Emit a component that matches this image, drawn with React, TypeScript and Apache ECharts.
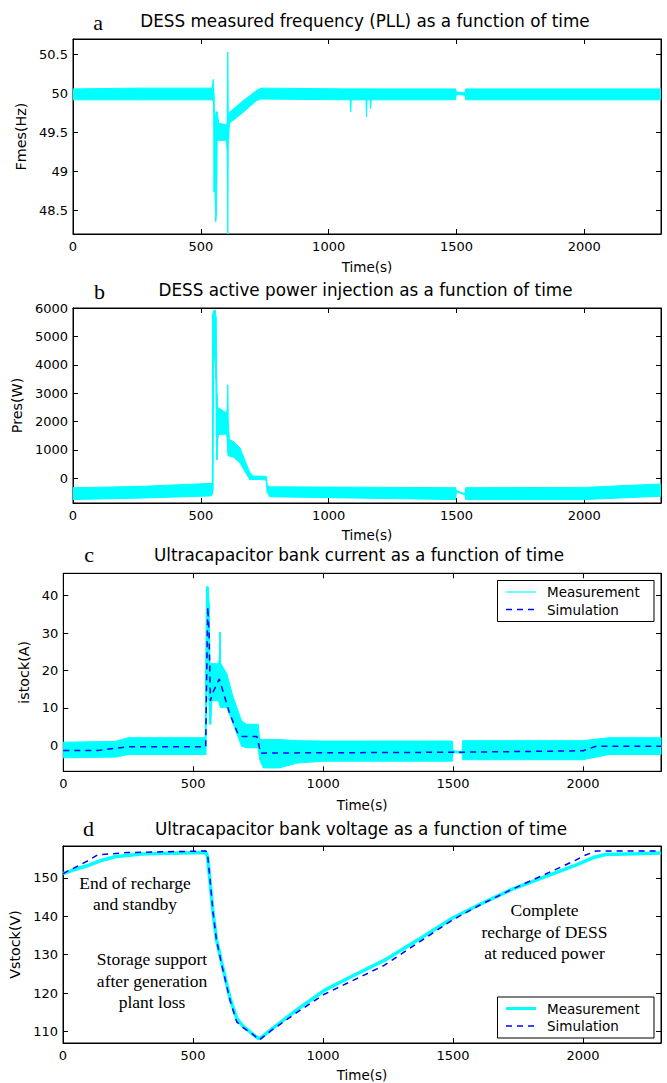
import React, { useEffect, useRef } from "react";
import * as echarts from "echarts";

// ---------- shared axis data ----------
const timeTicks = [0, 500, 1000, 1500, 2000];
const timeMax = 2300;

// ---------- (a) measured frequency: envelope of the measured band ----------
const freqTicks = [48.5, 49, 49.5, 50, 50.5];
const freqTime = [0, 250, 545, 549, 551, 552, 555, 558, 561, 564, 570, 600, 603, 605, 607, 612, 666, 718, 735, 1084, 1086, 1088, 1146, 1148, 1150, 1162, 1164, 1166, 1496, 1500, 1533, 1537, 2300];
const freqLow = [49.92, 49.92, 49.92, 49.9, 49.75, 48.74, 48.8, 48.36, 48.45, 49.4, 49.4, 49.4, 49.3, 48.2, 49.35, 49.62, 49.76, 49.91, 49.93, 49.92, 49.77, 49.92, 49.92, 49.7, 49.92, 49.92, 49.81, 49.92, 49.92, 49.99, 49.98, 49.92, 49.92];
const freqHigh = [50.06, 50.07, 50.07, 50.18, 50.0, 49.8, 49.7, 49.72, 49.77, 49.76, 49.62, 49.6, 49.62, 50.53, 49.72, 49.76, 49.91, 50.04, 50.07, 50.06, 50.06, 50.06, 50.06, 50.06, 50.06, 50.06, 50.06, 50.06, 50.06, 50.02, 50.01, 50.06, 50.06];

// ---------- (b) active power ----------
const powerTicks = [0, 1000, 2000, 3000, 4000, 5000, 6000];
const powerTime = [0, 250, 540, 545, 547, 550, 556, 559, 561, 563, 566, 570, 600, 603, 605, 607, 612, 627, 653, 692, 705, 752, 756, 760, 770, 1496, 1500, 1533, 1537, 2000, 2300];
const powerLow = [-750, -700, -620, -560, -400, 4000, 4500, 3500, 1500, 650, 1400, 1550, 1550, 1450, 1000, 800, 780, 750, 540, -50, -40, -50, -100, -500, -650, -750, -480, -580, -750, -750, -630];
const powerHigh = [-330, -290, -180, -160, 5800, 5900, 5930, 5700, 4350, 3000, 2450, 2480, 2300, 2400, 3290, 2000, 1360, 1300, 1070, 200, 80, 70, 60, -250, -300, -330, -440, -540, -330, -320, -200];

// ---------- (c) ultracapacitor current ----------
const currentTicks = [0, 10, 20, 30, 40];
const currentTime = [0, 200, 250, 546, 548, 551, 557, 561, 564, 567, 572, 598, 601, 603, 605, 629, 654, 686, 705, 749, 756, 770, 830, 900, 1000, 1496, 1500, 1535, 1538, 2000, 2100, 2300];
const currentLow = [-3.4, -3.2, -2.5, -2.5, -2.5, 10, 20, 12, 5.6, 5.6, 11.9, 11.9, 11, 10.5, 10.1, 10.1, 5.6, -0.3, -0.7, -0.7, -3.9, -6.1, -6.1, -4.8, -4.3, -4.3, -2.0, -2.2, -3.9, -3.9, -2.5, -2.5];
const currentHigh = [0.8, 1.0, 2.0, 2.0, 20, 42.4, 42.4, 38, 22, 21.8, 21.8, 21.8, 24, 30.3, 22, 19.1, 12.8, 6.5, 5.6, 5.6, 1.5, 1.5, 1.5, 1.2, 1.1, 1.1, -1.5, -1.7, 1.2, 1.2, 2.0, 2.0];
const currentSimTime = [0, 135, 250, 548, 552, 556, 561, 566, 575, 600, 641, 673, 690, 745, 760, 780, 1520, 1900, 2000, 2050, 2300];
const currentSim = [-1.4, -1.4, -0.4, -0.4, 20, 37.0, 30, 11.9, 14, 17.7, 8.3, 2.9, 2.3, 2.3, -2.2, -2.1, -1.9, -1.6, -1.5, -0.3, -0.3];

// ---------- (d) ultracapacitor voltage ----------
const voltTicks = [110, 120, 130, 140, 150];
const voltMeasTime = [0, 50, 100, 150, 200, 300, 400, 550, 556, 565, 577, 590, 610, 643, 668, 693, 726, 751, 760, 800, 907, 1005, 1100, 1235, 1380, 1497, 1600, 1726, 1850, 1972, 2040, 2086, 2200, 2300];
const voltMeas = [151.1, 152.3, 153.3, 154.6, 155.5, 156.2, 156.4, 156.6, 155.5, 149.5, 141, 134, 128, 118.5, 113.4, 111.3, 109.5, 108.2, 108.3, 110.5, 116, 120.7, 124, 128.5, 134.5, 139.5, 143, 147, 150.2, 153.3, 155.3, 156.1, 156.3, 156.5];
const voltSimTime = [0, 100, 133, 250, 550, 556, 565, 577, 590, 610, 643, 668, 693, 726, 755, 800, 907, 1005, 1235, 1497, 1600, 1726, 1850, 1972, 2005, 2050, 2300];
const voltSim = [151.1, 154.6, 156.0, 156.6, 157.0, 156, 150, 141, 134, 127.5, 118, 112.5, 111.0, 109.5, 107.8, 110.2, 115.3, 119.7, 127.2, 139, 142.8, 147, 150.8, 154.6, 155.8, 157.0, 157.0];

const CYAN = "#00ffff";
const BLUE = "#0000ff";
const SANS = "DejaVu Sans";
const SERIF = "Liberation Serif";

function bandData(t: number[], lo: number[], hi: number[]) {
  const out: number[][] = [];
  for (let i = 0; i < t.length - 1; i++) {
    out.push([t[i], lo[i], hi[i], t[i + 1], lo[i + 1], hi[i + 1]]);
  }
  return out;
}

function pairs(t: number[], v: number[]) {
  return t.map((x, i) => [x, v[i]]);
}

function bandSeries(idx: number, t: number[], lo: number[], hi: number[]) {
  return {
    type: "custom",
    xAxisIndex: idx,
    yAxisIndex: idx,
    clip: true,
    encode: { x: [0, 3], y: [1, 2, 4, 5] },
    data: bandData(t, lo, hi),
    renderItem: (_p: any, api: any) => {
      const a = api.coord([api.value(0), api.value(1)]);
      const b = api.coord([api.value(3), api.value(4)]);
      const c = api.coord([api.value(3), api.value(5)]);
      const d = api.coord([api.value(0), api.value(2)]);
      return {
        type: "polygon",
        shape: { points: [a, b, c, d] },
        style: { fill: CYAN, stroke: CYAN, lineWidth: 1 },
      };
    },
  };
}

const grids = [
  { left: 73, top: 39, width: 588, height: 195 },
  { left: 73, top: 308, width: 588, height: 195 },
  { left: 63.3, top: 573.3, width: 597.7, height: 198 },
  { left: 63, top: 846, width: 598, height: 199 },
];
const yRanges = [
  { min: 48.2, max: 50.7, ticks: freqTicks, name: "Fmes(Hz)", gap: 39 },
  { min: -870, max: 6000, ticks: powerTicks, name: "Pres(W)", gap: 43 },
  { min: -7, max: 46, ticks: currentTicks, name: "istock(A)", gap: 26 },
  { min: 107, max: 158.3, ticks: voltTicks, name: "Vstock(V)", gap: 35 },
];
const xNameGaps = [26, 25, 27, 25];

const axisLineStyle = { show: true, onZero: false, lineStyle: { color: "#000", width: 1 } };
const plain = (v: number) => String(v);

function buildOption() {
  const xAxis: any[] = [];
  const yAxis: any[] = [];
  for (let i = 0; i < 4; i++) {
    xAxis.push({
      type: "value",
      gridIndex: i,
      position: "bottom",
      min: 0,
      max: timeMax,
      name: "Time(s)",
      nameLocation: "middle",
      nameGap: xNameGaps[i],
      nameTextStyle: { fontFamily: SANS, fontSize: 13.5, color: "#000" },
      axisLine: axisLineStyle,
      axisTick: { show: true, inside: true, length: 5, customValues: timeTicks, lineStyle: { color: "#000" } },
      axisLabel: { show: true, customValues: timeTicks, formatter: plain, margin: 6, fontFamily: SANS, fontSize: 13, color: "#000" },
      splitLine: { show: false },
    });
  }
  for (let i = 0; i < 4; i++) {
    xAxis.push({
      type: "value",
      gridIndex: i,
      position: "top",
      min: 0,
      max: timeMax,
      axisLine: axisLineStyle,
      axisTick: { show: true, inside: true, length: 5, customValues: timeTicks, lineStyle: { color: "#000" } },
      axisLabel: { show: false, customValues: timeTicks },
      splitLine: { show: false },
    });
  }
  for (let i = 0; i < 4; i++) {
    const r = yRanges[i];
    yAxis.push({
      type: "value",
      gridIndex: i,
      position: "left",
      min: r.min,
      max: r.max,
      name: r.name,
      nameLocation: "middle",
      nameGap: r.gap,
      nameTextStyle: { fontFamily: SANS, fontSize: 14.3, color: "#000" },
      axisLine: axisLineStyle,
      axisTick: { show: true, inside: true, length: 5, customValues: r.ticks, lineStyle: { color: "#000" } },
      axisLabel: { show: true, customValues: r.ticks, formatter: plain, margin: 5, fontFamily: SANS, fontSize: 13, color: "#000" },
      splitLine: { show: false },
    });
  }
  for (let i = 0; i < 4; i++) {
    const r = yRanges[i];
    yAxis.push({
      type: "value",
      gridIndex: i,
      position: "right",
      min: r.min,
      max: r.max,
      axisLine: axisLineStyle,
      axisTick: { show: true, inside: true, length: 5, customValues: r.ticks, lineStyle: { color: "#000" } },
      axisLabel: { show: false, customValues: r.ticks },
      splitLine: { show: false },
    });
  }

  const series: any[] = [
    bandSeries(0, freqTime, freqLow, freqHigh),
    bandSeries(1, powerTime, powerLow, powerHigh),
    bandSeries(2, currentTime, currentLow, currentHigh),
    {
      type: "line",
      xAxisIndex: 2,
      yAxisIndex: 2,
      data: pairs(currentSimTime, currentSim),
      showSymbol: false,
      lineStyle: { color: BLUE, width: 1.5, type: [6, 5] },
      z: 5,
    },
    {
      type: "line",
      xAxisIndex: 3,
      yAxisIndex: 3,
      data: pairs(voltMeasTime, voltMeas),
      showSymbol: false,
      lineStyle: { color: CYAN, width: 3.5 },
    },
    {
      type: "line",
      xAxisIndex: 3,
      yAxisIndex: 3,
      data: pairs(voltSimTime, voltSim),
      showSymbol: false,
      lineStyle: { color: BLUE, width: 1.5, type: [6, 5] },
      z: 5,
    },
  ];
  // anchor the secondary (top/right) axes of each panel with an empty series
  for (let i = 0; i < 4; i++) {
    series.push({ type: "line", xAxisIndex: 4 + i, yAxisIndex: 4 + i, data: [], silent: true });
  }

  const text = (x: number, y: number, s: string, font: string, size: number, align = "center") => ({
    type: "text",
    x,
    y,
    silent: true,
    style: { text: s, fontFamily: font, fontSize: size, fill: "#000", align, verticalAlign: "middle" },
  });

  const legend = (top: number, thickMeas: number) => [
    {
      type: "rect",
      shape: { x: 497.5, y: top, width: 156.5, height: 41 },
      style: { fill: "#fff", stroke: "#000", lineWidth: 1 },
      z: 10,
    },
    {
      type: "line",
      shape: { x1: 506, y1: top + 11.5, x2: 536, y2: top + 11.5 },
      style: { stroke: CYAN, lineWidth: thickMeas },
      z: 11,
    },
    {
      type: "line",
      shape: { x1: 506, y1: top + 29, x2: 536, y2: top + 29 },
      style: { stroke: BLUE, lineWidth: 1.5, lineDash: [6, 5] },
      z: 11,
    },
    { ...text(547, top + 11.5, "Measurement", SANS, 13.5, "left"), z: 11 },
    { ...text(547, top + 29, "Simulation", SANS, 13.5, "left"), z: 11 },
  ];

  const graphic: any[] = [
    text(98, 22, "a", SERIF, 22),
    text(365, 21.2, "DESS measured frequency (PLL) as a function of time", SANS, 16.8),
    text(99.6, 291, "b", SERIF, 22),
    text(365.5, 289.5, "DESS active power injection as a function of time", SANS, 16.8),
    text(89, 554.3, "c", SERIF, 22),
    text(359, 555.2, "Ultracapacitor bank current as a function of time", SANS, 16.8),
    text(88.5, 828.6, "d", SERIF, 22),
    text(361, 828.5, "Ultracapacitor bank voltage as a function of time", SANS, 16.8),
    text(135, 882.7, "End of recharge", SERIF, 17.5),
    text(135, 904.2, "and standby", SERIF, 17.5),
    text(152, 959, "Storage support", SERIF, 17.5),
    text(152, 980.5, "after generation", SERIF, 17.5),
    text(152, 1002, "plant loss", SERIF, 17.5),
    text(544.5, 910, "Complete", SERIF, 17.5),
    text(544.5, 931.5, "recharge of DESS", SERIF, 17.5),
    text(544.5, 953, "at reduced power", SERIF, 17.5),
    ...legend(580.5, 1.2),
    ...legend(997, 3),
  ];

  return {
    animation: false,
    backgroundColor: "#fff",
    textStyle: { fontFamily: SANS },
    grid: grids.map((g) => ({ ...g, containLabel: false, show: true, borderColor: "#000", borderWidth: 1, backgroundColor: "transparent" })),
    xAxis,
    yAxis,
    series,
    graphic,
  };
}

export default function App() {
  const ref = useRef<HTMLDivElement>(null);
  useEffect(() => {
    if (!ref.current) return;
    const chart = echarts.init(ref.current, undefined, { renderer: "svg" });
    chart.setOption(buildOption() as any);
    return () => chart.dispose();
  }, []);
  return (
    <div
      ref={ref}
      style={{ position: "fixed", left: 0, top: 0, width: 667, height: 1083, background: "#fff" }}
    />
  );
}
